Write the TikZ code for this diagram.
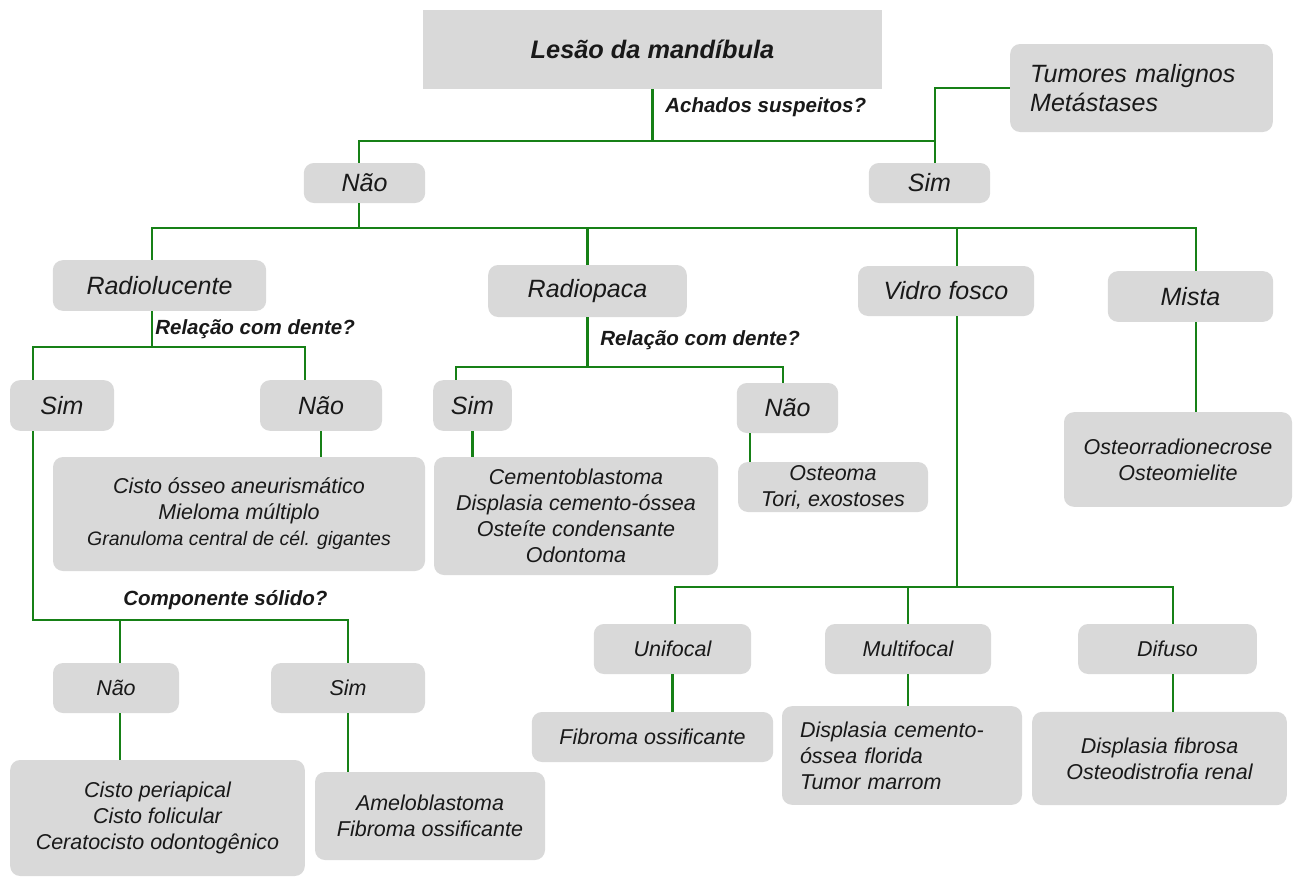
\documentclass[tikz,border=0pt]{standalone}
\usepackage{fontspec}
\setmainfont{Liberation Sans}

\definecolor{boxgray}{RGB}{217,217,217}
\definecolor{linkgreen}{RGB}{22,128,22}

\tikzset{
  box/.style={fill=boxgray, rounded corners=7.5pt, inner sep=0pt, align=center, text=black!90},
  lvlbox/.style={box, font=\fontsize{18.75}{22}\selectfont\itshape},
  listbox/.style={box, font=\fontsize{16.1}{19.5}\selectfont\itshape},
  askq/.style={inner sep=0pt, anchor=west, text=black!90, font=\fontsize{15.4}{18}\selectfont\bfseries\itshape},
  branch/.style={draw=linkgreen, line width=1.6pt},
}

\begin{document}
\begin{tikzpicture}[x=0.75pt, y=-0.75pt]
\useasboundingbox (0,0) rectangle (1293,878);

% Root and first question
\node[lvlbox, rounded corners=0pt, minimum width=344pt, minimum height=59pt, font=\fontsize{19}{22}\selectfont\bfseries\itshape] (root) at (652.5,49.5) {Lesão da mandíbula};
\node[askq] (qsusp) at (665,107) {Achados suspeitos?};
\node[lvlbox, minimum width=91pt, minimum height=30pt] (nao1) at (364.5,183) {Não};
\node[lvlbox, minimum width=91pt, minimum height=30pt] (sim1) at (929.5,183) {Sim};
\node[lvlbox, text width=167pt, inner xsep=15pt, minimum height=66pt, align=left] (tum) at (1141.5,88) {Tumores malignos\\Metástases};

% Density
\node[lvlbox, minimum width=160pt, minimum height=38pt] (rlu) at (159.5,285.5) {Radiolucente};
\node[lvlbox, minimum width=149pt, minimum height=39pt] (rop) at (587.5,291) {Radiopaca};
\node[lvlbox, minimum width=132pt, minimum height=37.5pt] (vid) at (946,291) {Vidro fosco};
\node[lvlbox, minimum width=124pt, minimum height=38pt] (mis) at (1190.5,296.5) {Mista};

% Radiolucente branch
\node[askq] (qrlu) at (155,329) {Relação com dente?};
\node[lvlbox, minimum width=78pt, minimum height=38pt] (rsim) at (62,405.5) {Sim};
\node[lvlbox, minimum width=91.5pt, minimum height=38pt] (rnao) at (321,405.5) {Não};
\node[listbox, minimum width=279pt, minimum height=85.5pt] (rlist) at (239,514) {Cisto ósseo aneurismático\\Mieloma múltiplo\\{\fontsize{14.6}{19.5}\selectfont Granuloma central de cél. gigantes}};
\node[askq] (qsol) at (123,600) {Componente sólido?};
\node[listbox, minimum width=94.5pt, minimum height=37.5pt] (csnao) at (116,688) {Não};
\node[listbox, minimum width=115.5pt, minimum height=37.5pt] (cssim) at (348,688) {Sim};
\node[listbox, minimum width=221pt, minimum height=87pt] (cslist1) at (157.5,818) {Cisto periapical\\Cisto folicular\\Ceratocisto odontogênico};
\node[listbox, minimum width=172.5pt, minimum height=66pt] (cslist2) at (430,816) {Ameloblastoma\\Fibroma ossificante};

% Radiopaca branch
\node[askq] (qrop) at (600,340) {Relação com dente?};
\node[lvlbox, minimum width=59pt, minimum height=38pt] (psim) at (472.5,405.5) {Sim};
\node[lvlbox, minimum width=76pt, minimum height=37.5pt] (pnao) at (787.5,408) {Não};
\node[listbox, minimum width=213pt, minimum height=88.5pt] (plist1) at (576,516) {Cementoblastoma\\Displasia cemento-óssea\\Osteíte condensante\\Odontoma};
\node[listbox, minimum width=142.5pt, minimum height=37.5pt] (plist2) at (833,487) {Osteoma\\Tori, exostoses};

% Mista branch
\node[listbox, minimum width=171pt, minimum height=71pt] (mlist) at (1178,459.5) {Osteorradionecrose\\Osteomielite};

% Vidro fosco branch
\node[listbox, minimum width=118pt, minimum height=37.5pt] (uni) at (672.5,649) {Unifocal};
\node[listbox, minimum width=124.5pt, minimum height=37.5pt] (mul) at (908,649) {Multifocal};
\node[listbox, minimum width=134pt, minimum height=37.5pt] (dif) at (1167.5,649) {Difuso};
\node[listbox, minimum width=181pt, minimum height=37.5pt] (ulist) at (652.5,737) {Fibroma ossificante};
\node[listbox, text width=153pt, inner xsep=13.5pt, minimum height=74pt, align=left] (mlist2) at (902,755.5) {Displasia cemento-\\óssea florida\\Tumor marrom};
\node[listbox, minimum width=191pt, minimum height=70pt] (dlist) at (1159.5,758.5) {Displasia fibrosa\\Osteodistrofia renal};

% Connectors: first split
\coordinate (a1) at (359,141);
\coordinate (a2) at (935,141);
\draw[branch] (root.south) -- (root.south |- a1);
\draw[branch] (nao1.north -| a1) |- (a2) -- (sim1.north -| a2);
\draw[branch] (sim1.north -| a2) |- (tum.west);

% Connectors: density
\coordinate (b1) at (152,228);
\coordinate (b2) at (1196,228);
\coordinate (b3) at (957,228);
\draw[branch] (nao1.south -| a1) -- (a1 |- b1);
\draw[branch] (rlu.north -| b1) |- (b2) -- (mis.north -| b2);
\draw[branch] (rop.north) -- (rop.north |- b1);
\draw[branch] (vid.north -| b3) -- (b3);

% Connectors: radiolucente
\coordinate (c1) at (33,347);
\coordinate (c2) at (305,347);
\draw[branch] (rlu.south -| b1) -- (b1 |- c1);
\draw[branch] (rsim.north -| c1) |- (c2) -- (rnao.north -| c2);
\draw[branch] (rnao.south) -- (rnao.south |- rlist.north);
\coordinate (d1) at (120,620);
\coordinate (d2) at (348,620);
\draw[branch] (rsim.south -| c1) |- (d2) -- (cssim.north);
\draw[branch] (d1) -- (csnao.north -| d1);
\draw[branch] (csnao.south -| d1) -- (cslist1.north -| d1);
\draw[branch] (cssim.south) -- (cslist2.north -| cssim.south);

% Connectors: radiopaca
\coordinate (e1) at (456,367);
\coordinate (e2) at (783,367);
\coordinate (e3) at (750,445);
\draw[branch] (rop.south) -- (rop.south |- e1);
\draw[branch] (psim.north -| e1) |- (e2) -- (pnao.north -| e2);
\draw[branch] (psim.south) -- (psim.south |- plist1.north);
\draw[branch] (pnao.south -| e3) -- (plist2.north -| e3);

% Connectors: mista
\draw[branch] (mis.south -| b2) -- (mlist.north -| b2);

% Connectors: vidro fosco
\coordinate (f1) at (675,587);
\coordinate (f2) at (1173,587);
\draw[branch] (vid.south -| b3) -- (b3 |- f1);
\draw[branch] (uni.north -| f1) |- (f2) -- (dif.north -| f2);
\draw[branch] (mul.north) -- (mul.north |- f1);
\draw[branch] (uni.south) -- (ulist.north -| uni.south);
\draw[branch] (mul.south) -- (mlist2.north -| mul.south);
\draw[branch] (dif.south -| f2) -- (dlist.north -| f2);
\end{tikzpicture}
\end{document}
